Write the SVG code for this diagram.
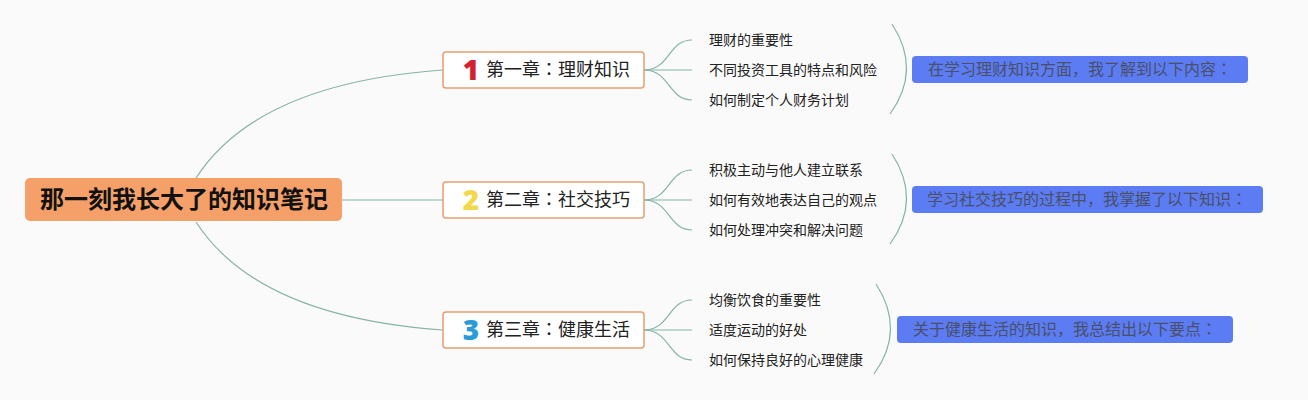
<svg xmlns="http://www.w3.org/2000/svg" width="1308" height="400" viewBox="0 0 1308 400">
<style>
text{font-family:"Noto Sans CJK SC","Noto Sans",sans-serif;}
.c{font-family:"Noto Sans CJK JP","Noto Sans CJK SC",sans-serif;}
.root{font-size:24px;font-weight:bold;fill:#111;}
.ch{fill:#fff;stroke:#e5a070;stroke-width:1.5;}
.cht{font-size:18px;fill:#222;}
.num{font-family:"Noto Sans","Liberation Sans",sans-serif;font-size:28px;font-weight:900;}
.leaf{font-size:14px;fill:#222;}
.sum{fill:#5b7cf2;}
.sumt{font-size:16px;fill:#4a4f6a;}
.ln{fill:none;stroke:#86b4a4;stroke-width:1.2;}
</style>
<rect width="1308" height="400" fill="#fafafa"/>
<g id="connectors">
<path class="ln" d="M196 178 C 240 110, 330 78, 443 70"/>
<path class="ln" d="M342 200 L 443 200"/>
<path class="ln" d="M196 222 C 240 290, 330 322, 443 330"/>
<path class="ln" d="M644 70 C 670 70, 668 40, 692 40"/>
<path class="ln" d="M644 70 L 692 70"/>
<path class="ln" d="M644 70 C 670 70, 668 100, 692 100"/>
<path class="ln" d="M644 200 C 670 200, 668 170, 692 170"/>
<path class="ln" d="M644 200 L 692 200"/>
<path class="ln" d="M644 200 C 670 200, 668 230, 692 230"/>
<path class="ln" d="M644 330 C 670 330, 668 300, 692 300"/>
<path class="ln" d="M644 330 L 692 330"/>
<path class="ln" d="M644 330 C 670 330, 668 360, 692 360"/>
<path class="ln" d="M892 24 Q 922 70, 890 114"/>
<path class="ln" d="M892 154 Q 922 200, 890 244"/>
<path class="ln" d="M876 284 Q 906 330, 874 374"/>
</g>
<g id="root">
<rect x="25" y="178" width="317" height="43" rx="5" fill="#f4a068"/>
<text class="root" x="184" y="208" text-anchor="middle">那一刻我长大了的知识笔记</text>
</g>
<g id="ch1">
<rect class="ch" x="443" y="52" width="201" height="36" rx="3"/>
<text class="num" x="471" y="80" text-anchor="middle" fill="#d4202f">1</text>
<text class="cht" x="486" y="76">第一章<tspan class="c">：</tspan>理财知识</text>
</g>
<g id="ch2">
<rect class="ch" x="443" y="182" width="201" height="36" rx="3"/>
<text class="num" x="471" y="210" text-anchor="middle" fill="#f2d84a">2</text>
<text class="cht" x="486" y="206">第二章<tspan class="c">：</tspan>社交技巧</text>
</g>
<g id="ch3">
<rect class="ch" x="443" y="312" width="201" height="36" rx="3"/>
<text class="num" x="471" y="340" text-anchor="middle" fill="#2a9bd9">3</text>
<text class="cht" x="486" y="336">第三章<tspan class="c">：</tspan>健康生活</text>
</g>
<g id="leaves1">
<text class="leaf" x="709" y="45">理财的重要性</text>
<text class="leaf" x="709" y="75">不同投资工具的特点和风险</text>
<text class="leaf" x="709" y="105">如何制定个人财务计划</text>
</g>
<g id="leaves2">
<text class="leaf" x="709" y="175">积极主动与他人建立联系</text>
<text class="leaf" x="709" y="205">如何有效地表达自己的观点</text>
<text class="leaf" x="709" y="235">如何处理冲突和解决问题</text>
</g>
<g id="leaves3">
<text class="leaf" x="709" y="305">均衡饮食的重要性</text>
<text class="leaf" x="709" y="335">适度运动的好处</text>
<text class="leaf" x="709" y="365">如何保持良好的心理健康</text>
</g>
<g id="sum1">
<rect class="sum" x="912" y="56" width="336" height="27" rx="4"/>
<text class="sumt" x="1080" y="75" text-anchor="middle">在学习理财知识方面，我了解到以下内容<tspan class="c">：</tspan></text>
</g>
<g id="sum2">
<rect class="sum" x="912" y="186" width="351" height="27" rx="4"/>
<text class="sumt" x="1087" y="205" text-anchor="middle">学习社交技巧的过程中，我掌握了以下知识<tspan class="c">：</tspan></text>
</g>
<g id="sum3">
<rect class="sum" x="897" y="316" width="336" height="27" rx="4"/>
<text class="sumt" x="1065" y="335" text-anchor="middle">关于健康生活的知识，我总结出以下要点<tspan class="c">：</tspan></text>
</g>
</svg>
